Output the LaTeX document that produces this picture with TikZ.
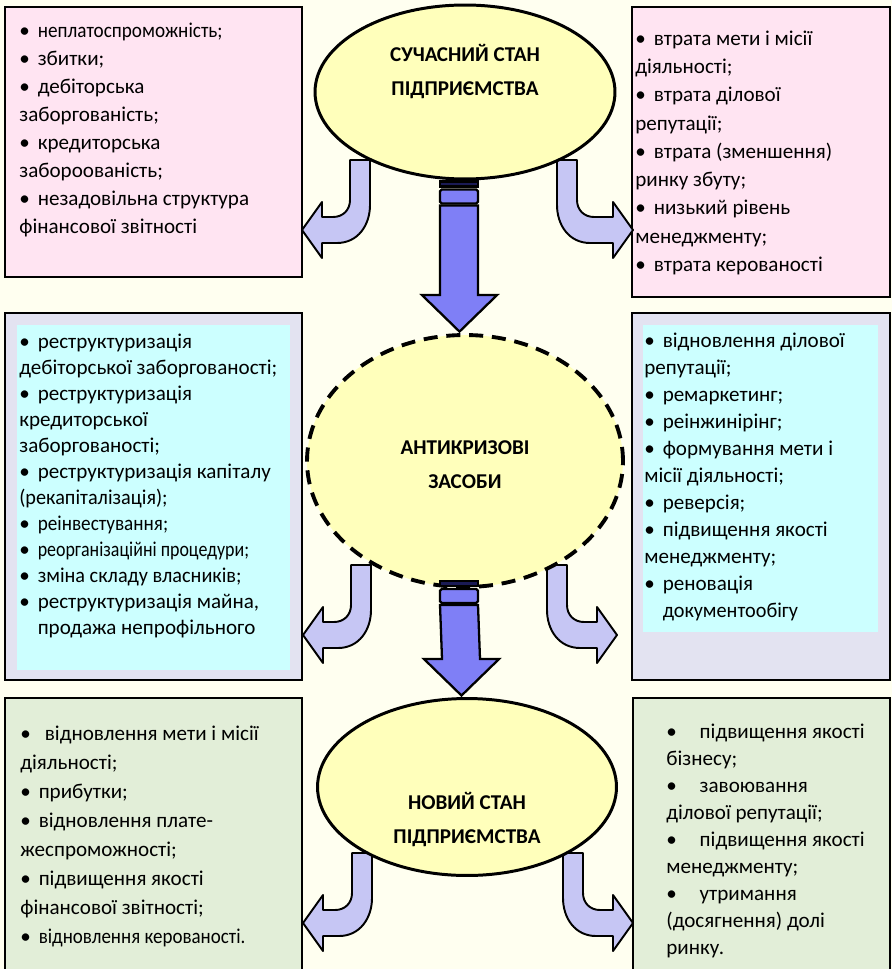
\documentclass[tikz,border=0pt]{standalone}
\usepackage{fontspec}
\setmainfont{Carlito}
\usepackage{tikz}
\usetikzlibrary{shapes.geometric,calc,positioning}
\definecolor{bgcream}{HTML}{FFFFF0}
\definecolor{pinkfill}{HTML}{FFE4F2}
\definecolor{lavfill}{HTML}{E3E3F1}
\definecolor{cyanfill}{HTML}{CCFFFF}
\definecolor{greenfill}{HTML}{E2EED8}
\definecolor{ellfill}{HTML}{FFFFBB}
\definecolor{bentfill}{HTML}{C6C6F4}
\definecolor{downfill}{HTML}{7F7FF6}
\definecolor{stripedark}{HTML}{1A1A55}
\tikzset{
  boxframe/.style = {draw=black, line width=1pt},
  itemtext/.style = {anchor=north west, inner sep=0pt, align=left},
  stateell/.style = {ellipse, draw=black, line width=1.7pt, fill=ellfill,
    inner sep=0pt, align=center, font=\bfseries\fontsize{12}{19.3}\selectfont},% eliptical state
  bent/.style = {draw=black, line width=1.1pt, fill=bentfill, line join=round},
  downarr/.style = {draw=black, line width=1.3pt, fill=downfill, line join=miter},
}
\newcommand{\itm}{\textbullet\hspace{4.5pt}}
% bent block arrow: x, y, direction (1 left, -1 right), extra length
\newcommand{\bentarrow}[4]{%
  \begin{scope}[shift={(#1,#2)}, xscale=#3]
    \draw[bent] (0,0) -- (0,40) .. controls (0,50) and (-7,57) .. (-17,57)
      -- (-28-#4,57) -- (-28-#4,42) -- (-48-#4,70) -- (-28-#4,98) -- (-28-#4,83)
      -- (-13,83) .. controls (8,83) and (20,65) .. (20,45) -- (20,0) -- cycle;
  \end{scope}}
% striped block arrow between two ellipses
\newcommand{\stripedarrow}[3]{%
  \draw[downarr, fill=stripedark] ($(#1.south)+(-25,#3-24)$) rectangle ($(#1.south)+(13,#3-19)$);
  \draw[downarr, rounded corners=1pt] ($(#1.south)+(-25,#3-16)$) rectangle ($(#1.south)+(13,#3-2)$);
  \draw[downarr] ($(#1.south)+(-25,#3)$) -- ($(#2.north)+(-25,-38)$) -- ($(#2.north)+(-43,-38)$)
    -- ($(#2.north)+(-5.5,-1.5)$) -- ($(#2.north)+(32,-38)$) -- ($(#2.north)+(13,-38)$)
    -- ($(#1.south)+(13,#3)$) -- cycle;}

\begin{document}
\begin{tikzpicture}[x=0.02cm, y=-0.02cm]
\useasboundingbox (0,0) rectangle (892,969);
\fill[bgcream] (0,0) rectangle (892,969);

% boxes
\draw[boxframe, fill=pinkfill] (5,7) rectangle (302,277);
\draw[boxframe, fill=pinkfill] (632,7) rectangle (890,297);
\draw[boxframe, fill=lavfill] (5,313) rectangle (302,680);
\fill[cyanfill] (17,325) rectangle (290,670);
\draw[boxframe, fill=lavfill] (632,313) rectangle (890,680);
\fill[cyanfill] (643,325) rectangle (878,632);
\draw[boxframe, fill=greenfill] (5,698) rectangle (302,985);
\draw[boxframe, fill=greenfill] (633,698) rectangle (890,985);

\node[itemtext, font=\fontsize{12}{15.9}\selectfont] (tltext) at (19,18)
  {\strut\itm \scalebox{0.91}[1]{неплатоспроможність;}\\ \itm збитки;\\ \itm дебіторська\\
   заборгованість;\\ \itm кредиторська\\ забороованість;\\ \itm незадовільна структура\\
   фінансової звітності};
\node[itemtext, font=\fontsize{12}{16.1}\selectfont] (trtext) at (635,25)
  {\strut\itm втрата мети і місії\\ діяльності;\\ \itm втрата ділової\\ репутації;\\
   \itm втрата (зменшення)\\ ринку збуту;\\ \itm низький рівень\\ менеджменту;\\
   \itm втрата керованості};
\node[itemtext, font=\fontsize{12}{14.8}\selectfont] (mltext) at (19,330)
  {\strut\itm реструктуризація\\ дебіторської заборгованості;\\ \itm реструктуризація\\
   кредиторської\\ заборгованості;\\ \itm реструктуризація капіталу\\
   \scalebox{0.96}[1]{(рекапіталізація);}\\ \itm \scalebox{0.91}[1]{реінвестування;}\\
   \itm \scalebox{0.85}[1]{реорганізаційні процедури;}\\ \itm \scalebox{0.96}[1]{зміна складу власників;}\\
   \itm реструктуризація майна,\\ \hphantom{\itm}продажа непрофільного};
\node[itemtext, font=\fontsize{12}{15.4}\selectfont] (mrtext) at (644,328)
  {\strut\itm відновлення ділової\\ репутації;\\ \itm ремаркетинг;\\ \itm реінжинірінг;\\
   \itm формування мети і\\ місії діяльності;\\ \itm реверсія;\\ \itm підвищення якості\\
   менеджменту;\\ \itm реновація\\ \hphantom{\itm}\scalebox{0.96}[1]{документообігу}};
\node[itemtext, font=\fontsize{12}{16.5}\selectfont] (bltext) at (20,720)
  {\strut\textbullet\hspace{8pt}відновлення мети і місії\\ діяльності;\\ \itm прибутки;\\
   \itm відновлення плате-\\ жеспроможності;\\ \itm підвищення якості\\
   фінансової звітності;\\ \itm \scalebox{0.9}[1]{відновлення керованості.}};
\node[itemtext, font=\fontsize{12}{15.4}\selectfont] (brtext) at (666,719)
  {\strut\textbullet\hspace{13pt}підвищення якості\\ бізнесу;\\ \textbullet\hspace{13pt}завоювання\\
   ділової репутації;\\ \textbullet\hspace{13pt}підвищення якості\\ менеджменту;\\
   \textbullet\hspace{13pt}утримання\\ (досягнення) долі\\ ринку.};

% side arrows
\bentarrow{350}{160}{1}{0}
\bentarrow{577}{160}{-1}{8}
\bentarrow{351}{565}{1}{0}
\bentarrow{567}{565}{-1}{2}
\bentarrow{352}{853}{1}{1}
\bentarrow{583}{853}{-1}{2}

% states
\node[stateell, minimum width=6cm, minimum height=3.48cm, text height=12pt, text depth=8pt]
  (cur) at (465,92) {СУЧАСНИЙ СТАН\\ПІДПРИЄМСТВА};
\node[stateell, dash pattern=on 8pt off 5pt, line width=2.2pt, minimum width=6.32cm,
  minimum height=5.04cm, text height=40pt, text depth=8.7pt]
  (anti) at (465,461) {АНТИКРИЗОВІ\\ЗАСОБИ};
\node[stateell, minimum width=5.98cm, minimum height=3.54cm, text height=66pt, text depth=1.7pt]
  (new) at (467,787) {НОВИЙ СТАН\\ПІДПРИЄМСТВА};

\stripedarrow{cur}{anti}{25}
\stripedarrow{anti}{new}{16}
\end{tikzpicture}
\end{document}
